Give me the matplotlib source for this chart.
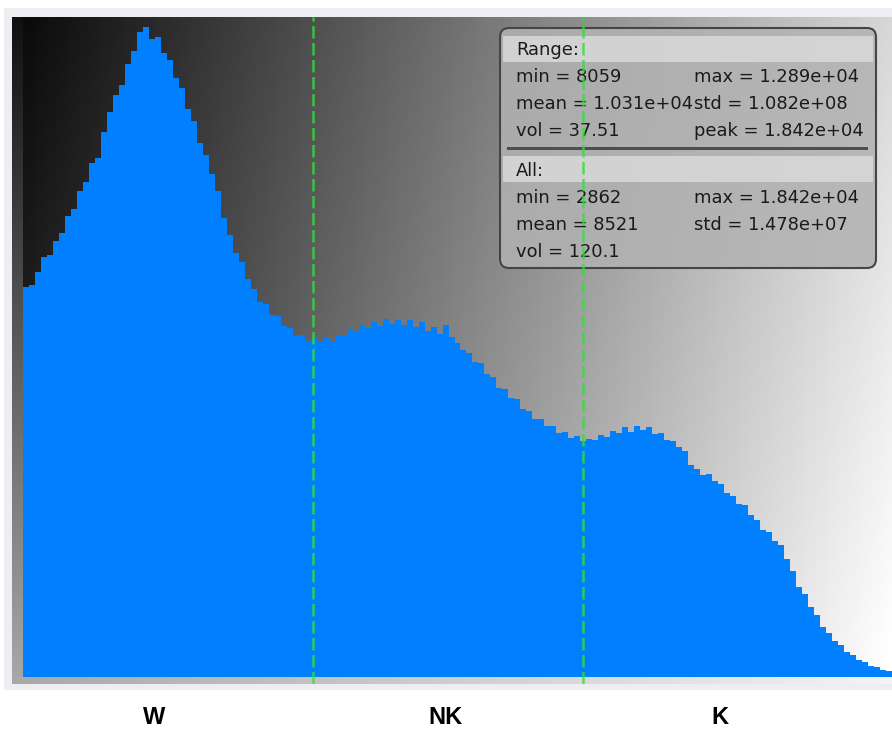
import numpy as np
import matplotlib
matplotlib.use("Agg")
import matplotlib.pyplot as plt
from matplotlib.patches import Rectangle, FancyBboxPatch
import matplotlib.transforms as mtransforms

# ---------------- data ----------------
value_min = 2862.0
value_max = 18420.0
range_lo = 8059.0
range_hi = 12890.0

# histogram counts (arbitrary units), 145 bins from value_min to value_max
counts = [
    390, 392, 405, 420, 422, 436, 444, 461, 468, 486,
    495, 514, 519, 545, 565, 582, 592, 613, 626, 645,
    650, 638, 640, 624, 617, 599, 589, 568, 556, 534,
    522, 503, 486, 459, 442, 424, 415, 398, 388, 375,
    373, 362, 361, 351, 349, 341, 342, 336, 339, 335,
    339, 336, 342, 341, 348, 346, 352, 349, 355, 351,
    358, 353, 357, 352, 357, 350, 355, 346, 350, 343,
    352, 340, 334, 327, 324, 315, 314, 303, 300, 289,
    288, 279, 278, 268, 266, 258, 258, 251, 251, 244,
    245, 239, 241, 236, 238, 237, 242, 240, 246, 244,
    250, 245, 251, 247, 250, 243, 244, 237, 236, 230,
    226, 212, 208, 202, 203, 196, 193, 184, 181, 173,
    172, 162, 157, 147, 145, 136, 132, 118, 106, 90,
    83, 70, 62, 50, 44, 36, 32, 25, 22, 17,
    15, 11, 10, 7, 6,
]

range_rows = [("min = 8059", "max = 1.289e+04"),
              ("mean = 1.031e+04", "std = 1.082e+08"),
              ("vol = 37.51", "peak = 1.842e+04")]
all_rows = [("min = 2862", "max = 1.842e+04"),
            ("mean = 8521", "std = 1.478e+07"),
            ("vol = 120.1", "")]
region_labels = ["W", "NK", "K"]

# ---------------- figure ----------------
W, H = 892, 731
fig = plt.figure(figsize=(W / 100, H / 100), dpi=100)
fig.patch.set_facecolor("white")

# pixel-coordinate transform (origin top-left)
ptrans = mtransforms.Affine2D().scale(1 / W, -1 / H).translate(0, 1) + fig.transFigure

# outer light frame
fig.patches.append(Rectangle((4, 8), 888, 682, transform=ptrans,
                             facecolor="#eceef2", edgecolor="none", zorder=-10))

ax = fig.add_axes([12 / W, 1 - 684 / H, 880 / W, 667 / H])
ax.set_zorder(1)
ax.axis("off")

n = len(counts)
edges = np.linspace(value_min, value_max, n + 1)
px_per_unit = 869.0 / (value_max - value_min)
x_left = value_min - 11.0 / px_per_unit
y_bot, y_top = -7, 660

# background gradient (dark top-left -> white bottom-right)
gx = np.linspace(0, 1, 400)[None, :]
gy = np.linspace(0, 1, 300)[:, None]
v = 8 + 207 * gx + 42 * gy
v = np.clip(v, 0, 255) / 255.0
ax.imshow(v, cmap="gray", vmin=0, vmax=1, extent=(x_left, value_max, y_bot, y_top),
          aspect="auto", origin="upper", zorder=0, interpolation="bilinear")

# left strip (vertical gradient)
ls = (16 + 152 * np.linspace(0, 1, 300))[:, None] / 255.0
ax.imshow(ls, cmap="gray", vmin=0, vmax=1, extent=(x_left, value_min, y_bot, y_top),
          aspect="auto", origin="upper", zorder=1, interpolation="bilinear")
# bottom strip (horizontal gradient)
bs = (168 + 75 * np.linspace(0, 1, 400))[None, :] / 255.0
ax.imshow(bs, cmap="gray", vmin=0, vmax=1, extent=(x_left, value_max, y_bot, 0),
          aspect="auto", origin="upper", zorder=1, interpolation="bilinear")
ax.set_xlim(x_left, value_max)
ax.set_ylim(y_bot, y_top)

# histogram
ax.stairs(counts, edges, fill=True, color="#0080ff", zorder=2)

# info box
box = FancyBboxPatch((500, 28), 376, 240, boxstyle="round,pad=0,rounding_size=9",
                     transform=ptrans, facecolor="#b2b2b2", alpha=0.86,
                     edgecolor="none", zorder=3, clip_on=False)
ax.add_patch(box)
for (by, bh) in [(36, 26), (156, 26)]:
    ax.add_patch(Rectangle((503, by), 370, bh, transform=ptrans, facecolor="#dcdcdc",
                           alpha=0.8, edgecolor="none", zorder=3.1, clip_on=False))
ax.add_patch(Rectangle((507, 146.5), 361, 3, transform=ptrans, facecolor="#4e4e4e",
                       edgecolor="none", zorder=3.2, clip_on=False))
ax.add_patch(FancyBboxPatch((500, 28), 376, 240, boxstyle="round,pad=0,rounding_size=9",
                            transform=ptrans, facecolor="none", edgecolor="#454545",
                            linewidth=1.5, zorder=3.3, clip_on=False))

fs = 12.9
tcol = "#1a1a1a"
ax.text(516, 50, "Range:", transform=ptrans, fontsize=fs, color=tcol,
        va="center", ha="left", zorder=4)
for i, (a, b) in enumerate(range_rows):
    yy = 77 + 27 * i
    ax.text(516, yy, a, transform=ptrans, fontsize=fs, color=tcol, va="center", ha="left", zorder=4)
    ax.text(694, yy, b, transform=ptrans, fontsize=fs, color=tcol, va="center", ha="left", zorder=4)
ax.text(516, 171, "All:", transform=ptrans, fontsize=fs, color=tcol,
        va="center", ha="left", zorder=4)
for i, (a, b) in enumerate(all_rows):
    yy = 198 + 27 * i
    ax.text(516, yy, a, transform=ptrans, fontsize=fs, color=tcol, va="center", ha="left", zorder=4)
    if b:
        ax.text(694, yy, b, transform=ptrans, fontsize=fs, color=tcol, va="center", ha="left", zorder=4)

# range markers
for xv in (range_lo, range_hi):
    ax.axvline(xv, color="#35dd3a", alpha=0.8, linewidth=1.8, dashes=(5, 1.8), zorder=5)

# region labels
for lab, xp in zip(region_labels, (154, 446, 720)):
    fig.text(xp / W, 1 - 717 / H, lab, ha="center", va="center", fontsize=17,
             fontweight="bold", family="Liberation Sans", color="black")

fig.savefig("out.png", dpi=100)
